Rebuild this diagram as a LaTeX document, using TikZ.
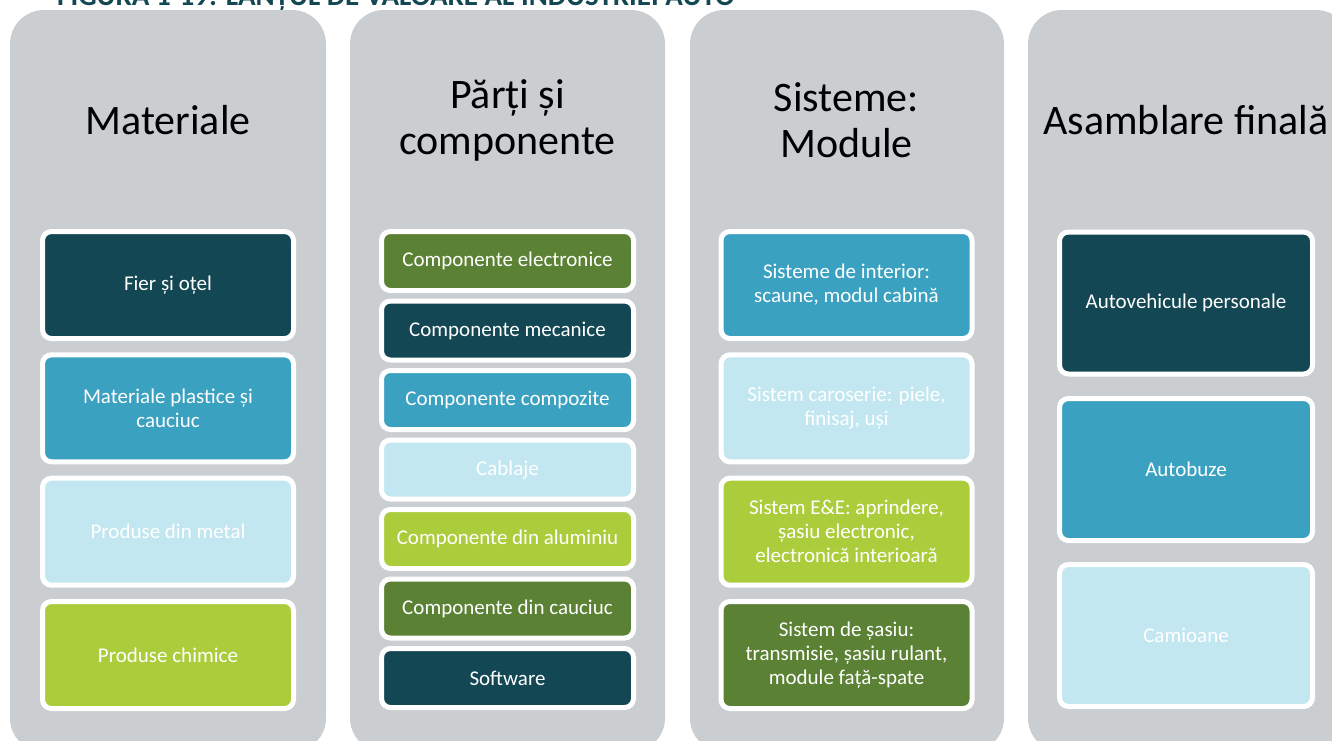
\documentclass[tikz,border=0pt]{standalone}
\usepackage{fontspec}
\setmainfont{Carlito}
\definecolor{panelgray}{RGB}{202,206,209}
\definecolor{darkteal}{RGB}{20,71,84}
\definecolor{midblue}{RGB}{59,161,192}
\definecolor{lightblue}{RGB}{194,231,240}
\definecolor{limegreen}{RGB}{172,205,59}
\definecolor{darkgreen}{RGB}{91,130,52}
\begin{document}
\begin{tikzpicture}[x=1pt,y=-1pt,
  panel/.style={fill=panelgray, rounded corners=34pt},
  coltitle/.style={align=center, text=black, font=\fontsize{42}{46}\selectfont, inner sep=0pt},
  box/.style={draw=white, line width=5pt, rounded corners=9pt, text=white, align=center,
    inner sep=0pt, font=\fontsize{21}{24}\selectfont},
  bigbox/.style={box, minimum width=251pt, minimum height=107pt},
  smallbox/.style={box, minimum width=252pt, minimum height=59pt},
  tallbox/.style={box, minimum width=253pt, minimum height=142pt},
  fteal/.style={fill=darkteal},
  fblue/.style={fill=midblue},
  flight/.style={fill=lightblue},
  flime/.style={fill=limegreen},
  fgreen/.style={fill=darkgreen}]
\useasboundingbox (0,0) rectangle (1332,740);
\clip (0,0) rectangle (1332,740);
% title (cut off at the top)
\node[anchor=base west, inner sep=0pt, text=darkteal, font=\bfseries\fontsize{29}{31}\selectfont] (fig) at (57,5) {FIGURA 1-19: LANȚUL DE VALOARE AL INDUSTRIEI AUTO};
% panels
\fill[panel] (10,10) rectangle (326,752);
\fill[panel] (350,10) rectangle (665,752);
\fill[panel] (690,10) rectangle (1004,752);
\fill[panel] (1028,10) rectangle (1350,752);
% column titles
\node[coltitle] (t1) at (168,120) {Materiale};
\node[coltitle] (t2) at (507.5,120) {Părți și\\componente};
\node[coltitle] (t3) at (846.5,120) {Sisteme:\\Module};
\node[coltitle] (t4) at (1186,120) {Asamblare finală};
% column 1
\node[bigbox, fteal] (m1) at (168,285) {Fier și oțel};
\node[bigbox, fblue] (m2) at (168,408.3) {Materiale plastice și\\cauciuc};
\node[bigbox, flight] (m3) at (168,531.7) {Produse din metal};
\node[bigbox, flime] (m4) at (168,655) {Produse chimice};
% column 2
\node[smallbox, fgreen] (p1) at (507.5,261) {Componente electronice};
\node[smallbox, fteal] (p2) at (507.5,330.5) {Componente mecanice};
\node[smallbox, fblue] (p3) at (507.5,400) {Componente compozite};
\node[smallbox, flight] (p4) at (507.5,469.5) {Cablaje};
\node[smallbox, flime] (p5) at (507.5,539) {Componente din aluminiu};
\node[smallbox, fgreen] (p6) at (507.5,608.5) {Componente din cauciuc};
\node[smallbox, fteal] (p7) at (507.5,678) {Software};
% column 3
\node[bigbox, fblue] (s1) at (846.5,285) {Sisteme de interior:\\scaune, modul cabină};
\node[bigbox, flight] (s2) at (846.5,408.3) {Sistem caroserie: piele,\\finisaj, uși};
\node[bigbox, flime] (s3) at (846.5,531.7) {Sistem E\&E: aprindere,\\șasiu electronic,\\electronică interioară};
\node[bigbox, fgreen] (s4) at (846.5,655) {Sistem de șasiu:\\transmisie, șasiu rulant,\\module față-spate};
% column 4
\node[tallbox, fteal] (a1) at (1186,303) {Autovehicule personale};
\node[tallbox, fblue] (a2) at (1186,469.5) {Autobuze};
\node[tallbox, flight] (a3) at (1186,635.5) {Camioane};
\end{tikzpicture}
\end{document}
